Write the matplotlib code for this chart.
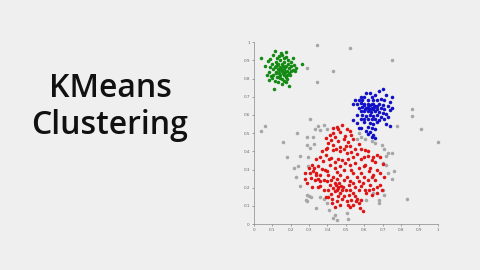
import matplotlib
matplotlib.use('Agg')
import matplotlib.pyplot as plt

# cluster points (data units, 0..1)
green = [(0.04, 0.91), (0.06, 0.87), (0.075, 0.895), (0.09, 0.905), (0.105, 0.93), (0.115, 0.95),
         (0.125, 0.915), (0.135, 0.925), (0.145, 0.94), (0.155, 0.93), (0.165, 0.91), (0.175, 0.92),
         (0.185, 0.90), (0.172, 0.945), (0.20, 0.89), (0.21, 0.91), (0.22, 0.875), (0.23, 0.86),
         (0.26, 0.88), (0.11, 0.74), (0.19, 0.76), (0.07, 0.82), (0.088, 0.862), (0.098, 0.88),
         (0.118, 0.892), (0.128, 0.872), (0.142, 0.902), (0.152, 0.878), (0.163, 0.893), (0.173, 0.868),
         (0.183, 0.882), (0.193, 0.858), (0.203, 0.871), (0.212, 0.848), (0.082, 0.838), (0.102, 0.852),
         (0.112, 0.862), (0.122, 0.838), (0.132, 0.851), (0.141, 0.862), (0.151, 0.842), (0.161, 0.853),
         (0.171, 0.861), (0.181, 0.839), (0.192, 0.828), (0.202, 0.842), (0.092, 0.812), (0.104, 0.822),
         (0.121, 0.828), (0.131, 0.808), (0.143, 0.821), (0.153, 0.798), (0.162, 0.818), (0.172, 0.808),
         (0.182, 0.798), (0.112, 0.788), (0.131, 0.782), (0.142, 0.801), (0.151, 0.772), (0.162, 0.789),
         (0.174, 0.781), (0.101, 0.801), (0.123, 0.809), (0.138, 0.832), (0.158, 0.828), (0.178, 0.822),
         (0.133, 0.878), (0.148, 0.858), (0.168, 0.838), (0.118, 0.868), (0.138, 0.848), (0.158, 0.868),
         (0.198, 0.818), (0.222, 0.842), (0.082, 0.792)]

blue = [(0.70, 0.74), (0.68, 0.73), (0.63, 0.72), (0.61, 0.72), (0.66, 0.71), (0.72, 0.71), (0.75, 0.70),
        (0.58, 0.70), (0.60, 0.70), (0.64, 0.70), (0.69, 0.69), (0.55, 0.68), (0.57, 0.68), (0.59, 0.68),
        (0.62, 0.68), (0.65, 0.68), (0.67, 0.68), (0.71, 0.68), (0.74, 0.67), (0.54, 0.66), (0.56, 0.66),
        (0.58, 0.665), (0.60, 0.66), (0.62, 0.66), (0.63, 0.655), (0.65, 0.66), (0.66, 0.65), (0.68, 0.66),
        (0.70, 0.655), (0.73, 0.65), (0.75, 0.64), (0.57, 0.64), (0.59, 0.645), (0.61, 0.64), (0.63, 0.635),
        (0.64, 0.64), (0.65, 0.63), (0.67, 0.635), (0.69, 0.64), (0.71, 0.63), (0.74, 0.625), (0.58, 0.62),
        (0.60, 0.62), (0.62, 0.62), (0.635, 0.615), (0.66, 0.62), (0.68, 0.615), (0.70, 0.61), (0.72, 0.605),
        (0.56, 0.60), (0.59, 0.60), (0.61, 0.595), (0.63, 0.60), (0.65, 0.595), (0.67, 0.60), (0.69, 0.59),
        (0.73, 0.59), (0.54, 0.57), (0.58, 0.58), (0.60, 0.575), (0.62, 0.58), (0.64, 0.575), (0.66, 0.58),
        (0.68, 0.57), (0.71, 0.575), (0.56, 0.555), (0.60, 0.56), (0.63, 0.555), (0.65, 0.55), (0.67, 0.56),
        (0.72, 0.55), (0.74, 0.54), (0.57, 0.53), (0.58, 0.53), (0.62, 0.535), (0.64, 0.53), (0.66, 0.52),
        (0.61, 0.51), (0.63, 0.505), (0.65, 0.49), (0.64, 0.48), (0.62, 0.495), (0.66, 0.475), (0.60, 0.655),
        (0.62, 0.645), (0.645, 0.66), (0.655, 0.645), (0.67, 0.65), (0.625, 0.63), (0.605, 0.63)]

red = [(0.48, 0.545), (0.45, 0.535), (0.43, 0.53), (0.505, 0.52), (0.47, 0.505), (0.44, 0.48),
       (0.495, 0.485), (0.52, 0.51), (0.415, 0.49), (0.39, 0.475), (0.54, 0.47), (0.46, 0.455),
       (0.405, 0.445), (0.43, 0.435), (0.47, 0.425), (0.50, 0.43), (0.52, 0.43), (0.55, 0.41),
       (0.58, 0.41), (0.605, 0.405), (0.62, 0.375), (0.65, 0.37), (0.67, 0.38), (0.685, 0.37),
       (0.39, 0.41), (0.43, 0.405), (0.47, 0.40), (0.505, 0.39), (0.54, 0.37), (0.39, 0.38),
       (0.42, 0.365), (0.46, 0.355), (0.375, 0.345), (0.34, 0.36), (0.37, 0.40), (0.58, 0.355),
       (0.315, 0.325), (0.325, 0.31), (0.305, 0.28), (0.28, 0.28), (0.28, 0.25), (0.29, 0.225),
       (0.34, 0.28), (0.36, 0.27), (0.385, 0.30), (0.415, 0.325), (0.44, 0.31), (0.47, 0.32),
       (0.495, 0.335), (0.52, 0.325), (0.55, 0.335), (0.57, 0.31), (0.605, 0.325), (0.625, 0.29),
       (0.64, 0.26), (0.65, 0.27), (0.67, 0.30), (0.685, 0.28), (0.705, 0.26), (0.58, 0.28),
       (0.54, 0.28), (0.505, 0.26), (0.47, 0.27), (0.43, 0.26), (0.405, 0.27), (0.38, 0.245),
       (0.395, 0.235), (0.415, 0.215), (0.44, 0.225), (0.46, 0.205), (0.48, 0.19), (0.47, 0.17),
       (0.44, 0.18), (0.485, 0.205), (0.515, 0.215), (0.54, 0.225), (0.57, 0.235), (0.595, 0.225),
       (0.63, 0.215), (0.67, 0.205), (0.685, 0.215), (0.695, 0.19), (0.67, 0.17), (0.64, 0.16),
       (0.605, 0.19), (0.57, 0.19), (0.54, 0.17), (0.515, 0.16), (0.405, 0.19), (0.38, 0.19),
       (0.35, 0.205), (0.36, 0.235), (0.33, 0.24), (0.315, 0.205), (0.39, 0.15), (0.425, 0.14),
       (0.45, 0.125), (0.48, 0.14), (0.505, 0.125), (0.53, 0.135), (0.56, 0.14), (0.585, 0.135),
       (0.57, 0.115), (0.54, 0.105), (0.575, 0.09), (0.595, 0.07), (0.47, 0.105), (0.44, 0.095),
       (0.525, 0.095), (0.425, 0.115), (0.405, 0.15), (0.46, 0.52), (0.49, 0.47), (0.42, 0.46),
       (0.51, 0.45), (0.445, 0.415), (0.49, 0.41), (0.53, 0.395), (0.56, 0.385), (0.6, 0.37),
       (0.64, 0.35), (0.41, 0.355), (0.44, 0.34), (0.48, 0.35), (0.51, 0.355), (0.35, 0.32),
       (0.37, 0.305), (0.40, 0.29), (0.45, 0.285), (0.49, 0.30), (0.53, 0.30), (0.56, 0.26),
       (0.60, 0.26), (0.62, 0.245), (0.66, 0.24), (0.31, 0.255), (0.35, 0.25), (0.42, 0.24),
       (0.45, 0.25), (0.49, 0.24), (0.52, 0.235), (0.55, 0.205), (0.58, 0.21), (0.61, 0.17),
       (0.65, 0.195), (0.43, 0.20), (0.45, 0.19), (0.50, 0.185), (0.52, 0.19), (0.42, 0.165),
       (0.455, 0.155), (0.49, 0.155), (0.55, 0.155), (0.36, 0.21), (0.335, 0.27), (0.30, 0.31),
       (0.445, 0.215), (0.465, 0.225), (0.455, 0.2), (0.475, 0.21), (0.51, 0.105), (0.555, 0.125),
       (0.60, 0.32), (0.63, 0.31), (0.66, 0.34), (0.70, 0.33), (0.62, 0.4), (0.57, 0.44),
       (0.53, 0.49), (0.43, 0.5), (0.40, 0.42), (0.36, 0.37), (0.32, 0.29), (0.625, 0.19)]

grey = [(0.345, 0.985), (0.52, 0.97), (0.75, 0.90), (0.43, 0.84), (0.29, 0.86), (0.345, 0.78),
        (0.305, 0.58), (0.06, 0.54), (0.04, 0.51), (0.16, 0.45), (0.18, 0.37), (0.235, 0.50),
        (0.86, 0.63), (0.86, 0.595), (0.91, 0.525), (1.0, 0.45), (0.83, 0.14), (0.78, 0.54),
        (0.25, 0.375), (0.295, 0.37), (0.305, 0.42), (0.325, 0.44), (0.32, 0.48), (0.29, 0.48),
        (0.33, 0.52), (0.35, 0.54), (0.38, 0.545), (0.36, 0.515), (0.22, 0.31), (0.23, 0.26),
        (0.25, 0.21), (0.29, 0.16), (0.30, 0.155), (0.31, 0.15), (0.285, 0.13), (0.34, 0.09),
        (0.40, 0.115), (0.41, 0.08), (0.44, 0.05), (0.43, 0.033), (0.45, 0.025), (0.505, 0.06),
        (0.51, 0.03), (0.64, 0.455), (0.66, 0.445), (0.695, 0.435), (0.705, 0.41), (0.73, 0.39),
        (0.75, 0.39), (0.72, 0.375), (0.70, 0.335), (0.72, 0.325), (0.73, 0.28), (0.76, 0.29),
        (0.75, 0.25), (0.70, 0.19), (0.71, 0.16), (0.68, 0.135), (0.68, 0.115), (0.65, 0.17),
        (0.61, 0.135), (0.585, 0.48), (0.605, 0.465), (0.57, 0.50), (0.395, 0.52), (0.29, 0.435),
        (0.295, 0.32), (0.24, 0.32), (0.29, 0.125), (0.38, 0.14), (0.36, 0.15), (0.56, 0.465)]

clusters = [(grey, '#a6a6a6'), (red, '#e01414'), (blue, '#1010c8'), (green, '#138a13')]
ticks = [0, 0.1, 0.2, 0.3, 0.4, 0.5, 0.6, 0.7, 0.8, 0.9, 1]
tick_labels = ['0', '0.1', '0.2', '0.3', '0.4', '0.5', '0.6', '0.7', '0.8', '0.9', '1']

bg = '#efefef'
fig = plt.figure(figsize=(4.8, 2.7), dpi=100, facecolor=bg)
ax = fig.add_axes([0.529, 0.170, 0.383, 0.674], facecolor=bg)

for pts, col in clusters:
    xs, ys = zip(*pts)
    ax.scatter(xs, ys, s=6.5, c=col, linewidths=0, clip_on=False, zorder=3)

ax.set_xlim(0, 1)
ax.set_ylim(0, 1)
ax.set_xticks(ticks)
ax.set_xticklabels(tick_labels)
ax.set_yticks(ticks)
ax.set_yticklabels(tick_labels)
ax.tick_params(labelsize=3, colors='#666666', length=1.5, width=0.4, pad=1.5)
for s in ['top', 'right']:
    ax.spines[s].set_visible(False)
for s in ['left', 'bottom']:
    ax.spines[s].set_color('#888888')
    ax.spines[s].set_linewidth(0.5)

# title on the left
fig.text(110 / 480, 0.641, 'KMeans', ha='center', va='baseline', fontsize=23,
         fontfamily='Open Sans', fontweight='semibold', color='#111111')
fig.text(110 / 480, 0.504, 'Clustering', ha='center', va='baseline', fontsize=23,
         fontfamily='Open Sans', fontweight='semibold', color='#111111')

fig.savefig('out.png', dpi=100, facecolor=bg)
